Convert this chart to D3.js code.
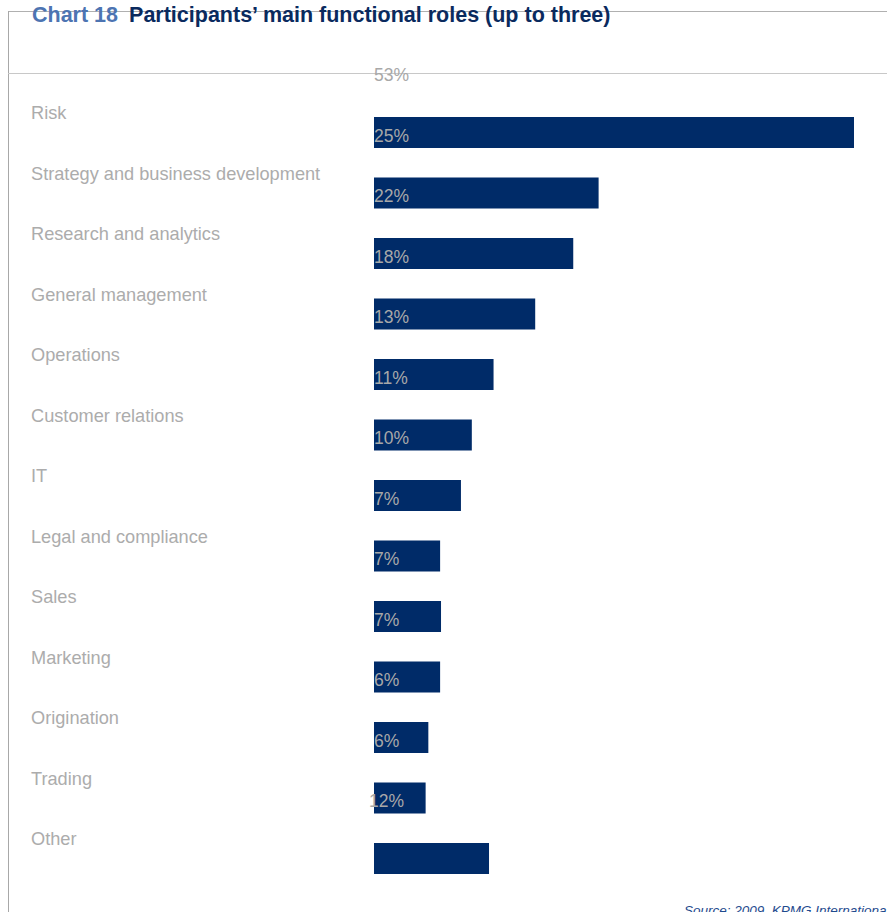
<!DOCTYPE html>
<html><head><meta charset="utf-8">
<script src="https://cdn.jsdelivr.net/npm/d3@7"></script>
<style>body{margin:0;background:#fff}svg{display:block}</style>
</head><body>
<svg id="c" width="887" height="912"></svg>
<script>
const categories = ["Risk","Strategy and business development","Research and analytics","General management","Operations","Customer relations","IT","Legal and compliance","Sales","Marketing","Origination","Trading","Other"];
const values = [53,24.8,22,17.8,13.2,10.8,9.6,7.3,7.4,7.3,6,5.7,12.7];
const valueLabels = ["53%","25%","22%","18%","13%","11%","10%","7%","7%","7%","6%","6%","12%"];

const svg = d3.select("#c");
const x = d3.scaleLinear().domain([0,53]).range([374,854]);
const y = d3.scalePoint().domain(categories).range([117,843]);
const barH = 31;

// frame lines
svg.append("line").attr("x1",8).attr("x2",887).attr("y1",11.5).attr("y2",11.5).attr("stroke","#b0b0b0");
svg.append("line").attr("x1",8.5).attr("x2",8.5).attr("y1",11).attr("y2",912).attr("stroke","#a8a8a8");
svg.append("line").attr("x1",8).attr("x2",887).attr("y1",73.5).attr("y2",73.5).attr("stroke","#c8c8c8");

// title
const t = svg.append("text").attr("x",32).attr("y",22)
  .style("font-family","'Liberation Sans',Arial,sans-serif").style("font-weight","bold").style("font-size","21.5px");
t.append("tspan").attr("fill","#4d74b2").text("Chart 18");
t.append("tspan").attr("fill","#0a2a5e").attr("dx",11).text("Participants’ main functional roles (up to three)");

// bars
svg.selectAll("rect.bar").data(categories).join("rect").attr("class","bar")
  .attr("x",x(0)).attr("y",d=>y(d)).attr("height",barH)
  .attr("width",(d,i)=>x(values[i])-x(0)).attr("fill","#002b68");

// category labels
svg.selectAll("text.cat").data(categories).join("text").attr("class","cat")
  .attr("x",31).attr("y",d=>y(d)+2).text(d=>d)
  .style("font-family","'Liberation Sans',Arial,sans-serif").style("font-size","18.2px").attr("fill","#acacac");

// value labels (offset above each bar as in the original)
svg.selectAll("text.val").data(categories).join("text").attr("class","val")
  .attr("x",(d,i)=>i===12?369:x(0)).attr("y",d=>y(d)-36).text((d,i)=>valueLabels[i])
  .style("font-family","'Liberation Sans',Arial,sans-serif").style("font-size","17.5px").attr("fill","#a8a8a8");

// source
svg.append("text").attr("x",684).attr("y",915).text("Source: 2009, KPMG International")
  .style("font-family","'Liberation Sans',Arial,sans-serif").style("font-style","italic").style("font-size","13.5px").attr("fill","#1f4b8e");
</script>
</body></html>
